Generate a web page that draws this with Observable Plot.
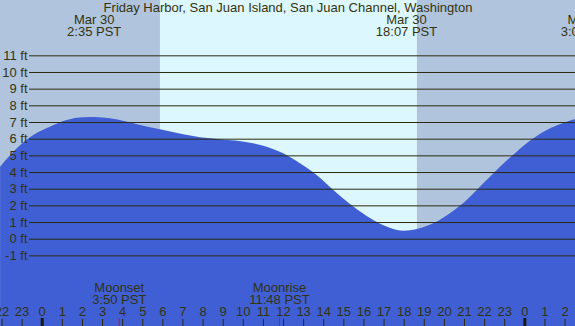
<!DOCTYPE html>
<html>
<head>
<meta charset="utf-8">
<script src="https://cdn.jsdelivr.net/npm/d3@7"></script>
<script src="https://cdn.jsdelivr.net/npm/@observablehq/plot@0.6"></script>
<style>
  html, body { margin: 0; padding: 0; background: #b0c4de; }
  svg { display: block; }
</style>
</head>
<body>
<div id="chart"></div>
<script>
// ---- data (hours from midnight, Mar 30 PST) ----
const title = "Friday Harbor, San Juan Island, San Juan Channel, Washington";
const tideHours   = [-2.07, -1.24, -0.42, 0.41, 1.24, 2.07, 2.65, 3.40, 4.14, 4.89, 5.88, 7.04, 7.87, 8.87, 10.36, 11.19, 12.01, 12.84, 13.67, 14.50, 15.33, 16.16, 16.99, 17.98, 18.65, 19.47, 20.30, 21.13, 21.96, 22.79, 23.62, 24.45, 25.28, 26.11, 26.52];
const tideFeet    = [4.32, 5.42, 6.22, 6.72, 7.12, 7.28, 7.30, 7.22, 7.04, 6.82, 6.56, 6.26, 6.08, 5.96, 5.76, 5.52, 5.12, 4.52, 3.82, 2.92, 2.08, 1.36, 0.80, 0.48, 0.58, 0.92, 1.52, 2.32, 3.32, 4.32, 5.22, 6.02, 6.62, 7.02, 7.18];
const sunrise = 5.88, sunset = 18.66;
const extremeTimes  = [2.583, 18.117, 27.13];
const extremeDates  = ["Mar 30", "Mar 30", "Mar 31"];
const extremeLabels = ["2:35 PST", "18:07 PST", "3:08 PST"];
const moonTimes  = [3.833, 11.8];
const moonNames  = ["Moonset", "Moonrise"];
const moonLabels = ["3:50 PST", "11:48 PST"];
const feetTicks = [-1, 0, 1, 2, 3, 4, 5, 6, 7, 8, 9, 10, 11];
const hourTicks = d3.range(-2, 27);
const midnights = [0, 24];

// ---- styling ----
const xDomain = [-2.074, 26.52];
const yDomain = [-5.237, 14.319];
const nightColor = "#b0c4de", dayColor = "#ddf7ff", waterColor = "#405fd4";
const ink = "#33330f", gridInk = "#2b2b0e";

const tide = tideHours.map((h, i) => ({h, ft: tideFeet[i]}));
const extremes = extremeTimes.map((t, i) => ({t, text: extremeDates[i] + "\n" + extremeLabels[i]}));
const moons = moonTimes.map((t, i) => ({t, text: moonNames[i] + "\n" + moonLabels[i]}));

const chart = Plot.plot({
  width: 575,
  height: 326,
  margin: 0,
  x: {domain: xDomain, axis: null},
  y: {domain: yDomain, axis: null},
  style: {fontFamily: "'Liberation Sans', Arial, sans-serif", fontSize: "13px", background: nightColor, overflow: "hidden"},
  marks: [
    Plot.rect([{a: sunrise, b: sunset}], {x1: "a", x2: "b", fill: dayColor}),
    Plot.areaY(tide, {x: "h", y1: yDomain[0], y2: "ft", fill: waterColor, curve: "monotone-x"}),
    Plot.ruleY(feetTicks, {y: d => d, stroke: gridInk, strokeWidth: 1, insetLeft: 29}),
    Plot.text(feetTicks, {y: d => d, text: d => `${d} ft`, frameAnchor: "left", textAnchor: "end", dx: 27, fill: ink, lineAnchor: "middle"}),
    Plot.text([title], {text: d => d, frameAnchor: "top", dy: 7.5, fill: ink, lineAnchor: "middle"}),
    Plot.text(extremes, {x: "t", text: "text", frameAnchor: "top", dy: 26, lineHeight: 0.9, fill: ink, lineAnchor: "middle"}),
    Plot.text(moons, {x: "t", text: "text", frameAnchor: "bottom", dy: -32.2, lineHeight: 0.92, fill: ink, lineAnchor: "middle"}),
    Plot.text(hourTicks, {x: d => d, text: d => String(((d % 24) + 24) % 24), frameAnchor: "bottom", dy: -14.5, fill: ink, lineAnchor: "middle"}),
    Plot.ruleX(hourTicks, {x: d => d, stroke: gridInk, strokeWidth: 1, insetTop: 319}),
    Plot.ruleX(midnights, {x: d => d, stroke: "#1a1a08", strokeWidth: 3, insetTop: 318}),
    Plot.ruleX(moonTimes, {x: d => d, stroke: "#ff0000", strokeWidth: 1, insetTop: 318})
  ]
});
document.getElementById("chart").append(chart);
</script>
</body>
</html>
